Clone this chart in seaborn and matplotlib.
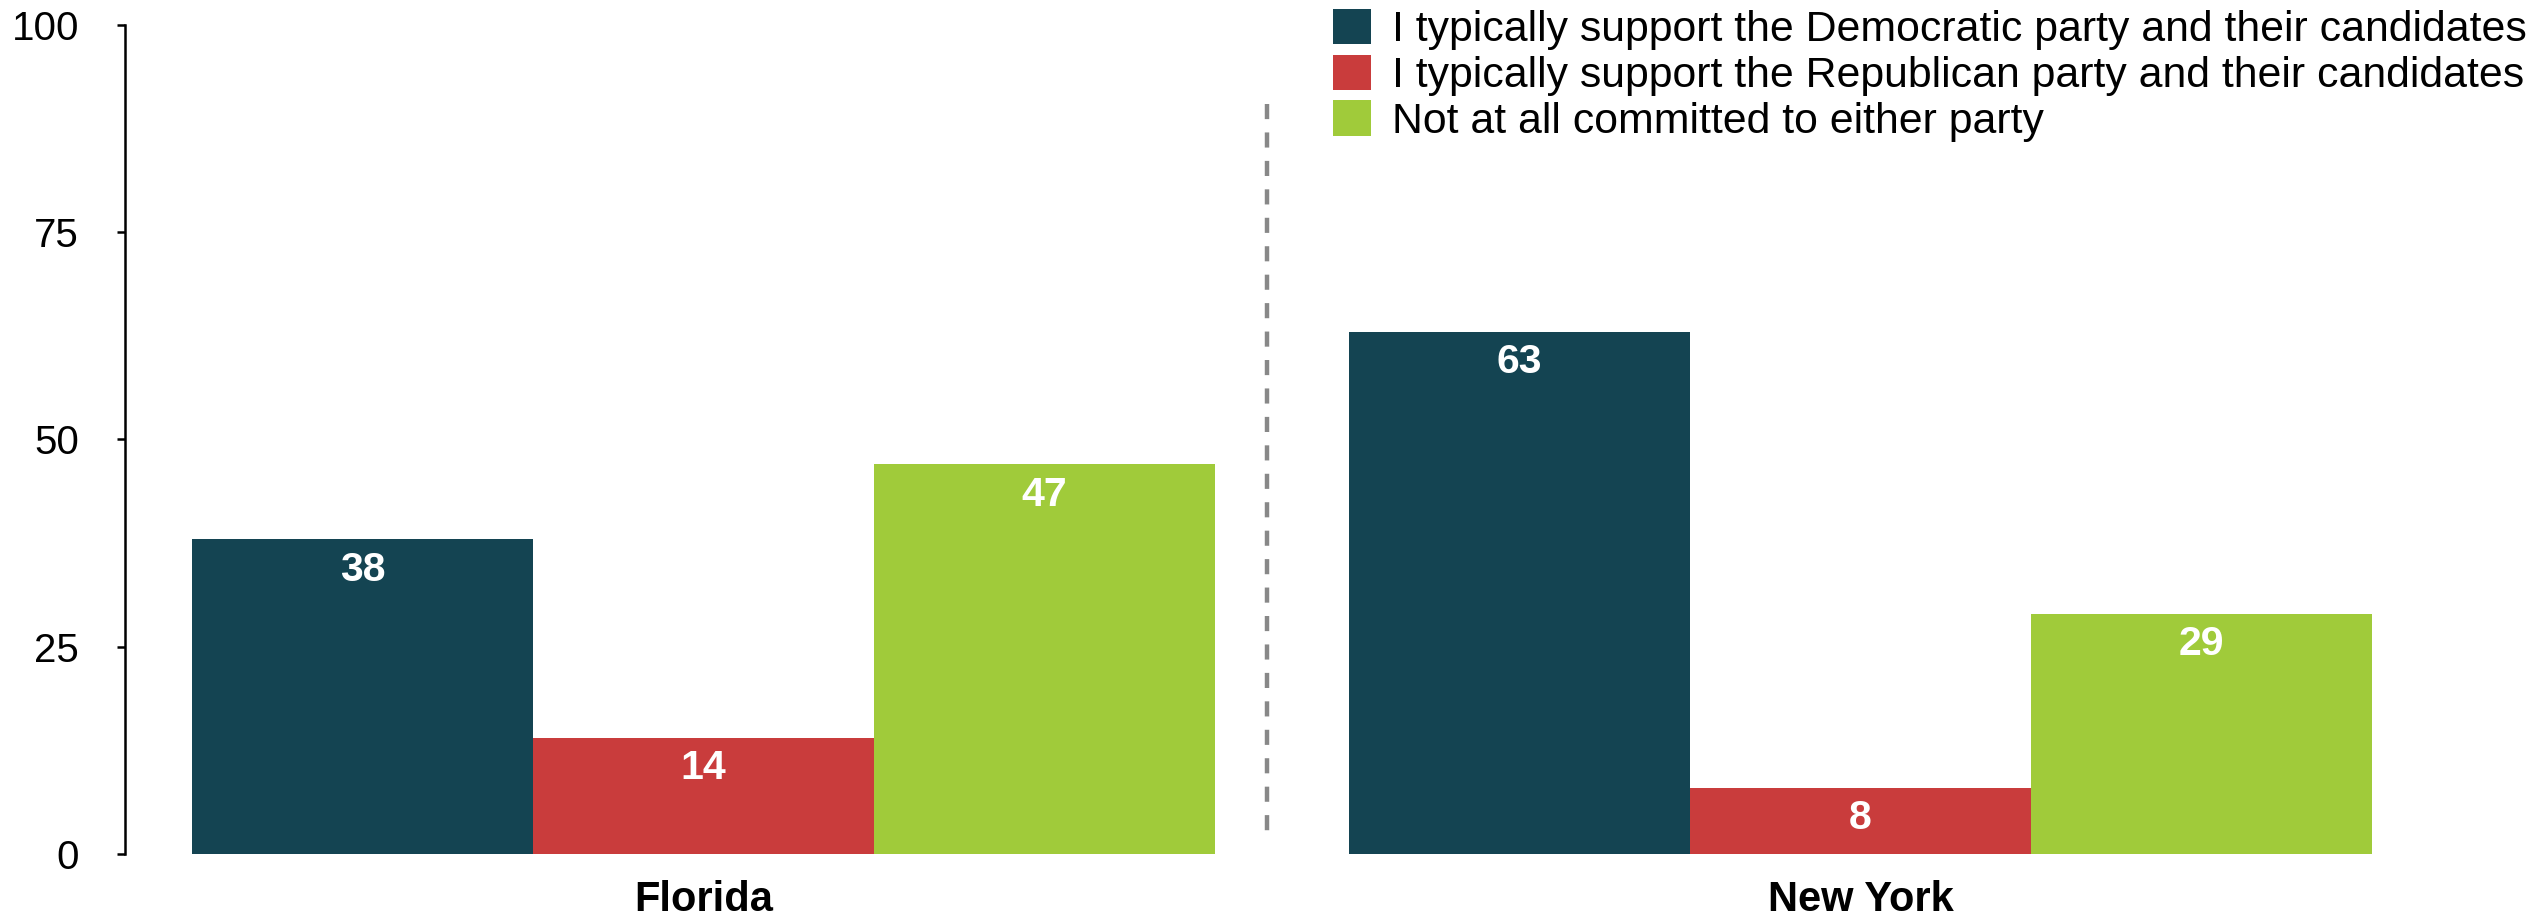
import matplotlib
matplotlib.use("Agg")
import matplotlib.pyplot as plt
import seaborn as sns
import pandas as pd

states = ["Florida", "New York"]
groups = [
    "I typically support the Democratic party and their candidates",
    "I typically support the Republican party and their candidates",
    "Not at all committed to either party",
]
dem = [38, 63]
rep = [14, 8]
ind = [47, 29]
yticks = [0, 25, 50, 75, 100]
colors = ["#144452", "#C93C3C", "#A0CB3A"]

rows = []
for g, vals in zip(groups, [dem, rep, ind]):
    for s, v in zip(states, vals):
        rows.append({"state": s, "group": g, "value": v})
df = pd.DataFrame(rows)

sns.set_style("white")
plt.rcParams["font.family"] = ["Liberation Sans", "DejaVu Sans"]
plt.rcParams["text.color"] = "black"
plt.rcParams["xtick.color"] = "black"
plt.rcParams["ytick.color"] = "black"

fig = plt.figure(figsize=(25.34, 9.17), dpi=100)
ax = fig.add_axes([0.0493, 0.0687, 0.9132, 0.9041])

sns.barplot(data=df, x="state", y="value", hue="group", order=states,
            hue_order=groups, palette=colors, width=0.884, saturation=1,
            ax=ax, legend=True, linewidth=0)

for cont in ax.containers:
    for p in cont.patches:
        h = p.get_height()
        ax.annotate(f"{h:.0f}", (p.get_x() + p.get_width() / 2, h),
                    xytext=(0, -22), textcoords="offset points",
                    ha="center", va="center", color="white",
                    fontsize=29.5, fontweight="bold")

ax.set_xlim(-0.5, 1.5)
ax.set_ylim(0, 100)
ax.set_yticks(yticks)
ax.set_yticklabels([str(t) for t in yticks], fontsize=29)
ax.set_xlabel("")
ax.set_ylabel("")
for lbl in ax.get_xticklabels():
    lbl.set_fontweight("bold")
    lbl.set_fontsize(30)
    lbl.set_color("black")
ax.tick_params(axis="x", length=0, pad=19)
ax.tick_params(axis="y", length=6, width=1.8, color="black", pad=27,
               direction="out", left=True)
for side in ["top", "right", "bottom"]:
    ax.spines[side].set_visible(False)
ax.spines["left"].set_color("black")
ax.spines["left"].set_linewidth(1.8)

ax.plot([0.4875, 0.4875], [90.5, 2.5], color="#888888", lw=3.2,
        linestyle=(0, (3.4, 3.0)), zorder=0)

handles, labels = ax.get_legend_handles_labels()
leg = ax.legend(handles, labels, loc="upper left",
                bbox_to_anchor=(1333 / 2534, 1 - 9 / 917), bbox_transform=fig.transFigure,
                frameon=False, fontsize=30.8, borderpad=0, borderaxespad=0,
                handlelength=0.89, handleheight=0.89, handletextpad=0.48,
                labelspacing=0.1)
for t in leg.get_texts():
    t.set_color("black")

fig.savefig("out.png", dpi=100)
